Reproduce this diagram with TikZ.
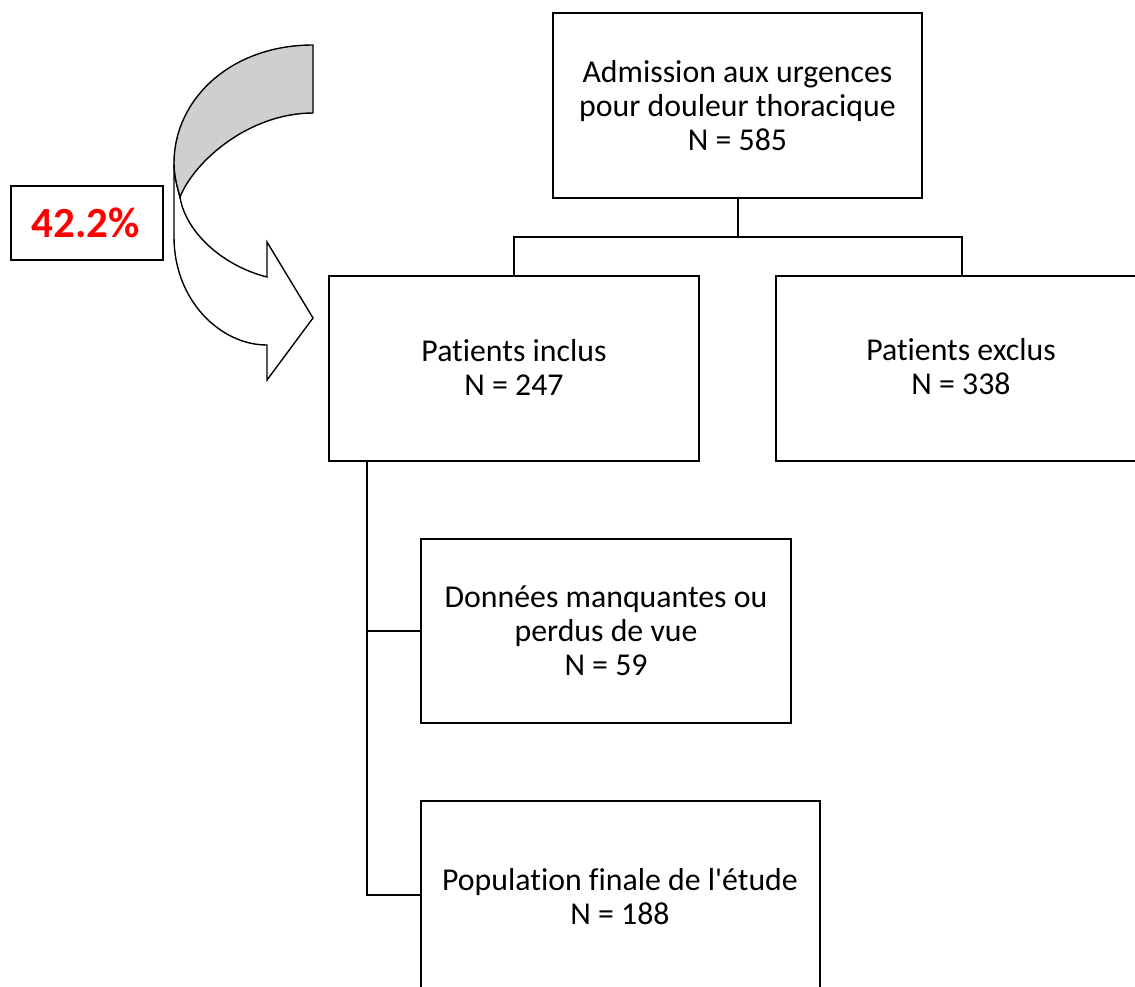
\documentclass[tikz,border=0pt]{standalone}
\usepackage{fontspec}
\newfontfamily\calfont{Carlito}[RawFeature=-liga]
\begin{document}
\begin{tikzpicture}[x=0.5pt,y=-0.5pt,
  box/.style={draw,line width=1.25pt,inner sep=0pt},
  conn/.style={line width=1pt},
  lbl/.style={align=center,font=\calfont\fontsize{15.9}{17}\selectfont},
  arr/.style={draw,line width=0.7pt,line join=miter}]
\useasboundingbox (0,0) rectangle (1135,986);
% boxes
\draw[box] (553,13) rectangle (922,198);
\node[lbl] (admtext) at (737.5,106) {Admission aux urgences\\pour douleur thoracique\\N = 585};
\draw[box] (329,276) rectangle (699,461);
\node[lbl] (incl) at (514,367) {Patients inclus\\N = 247};
\draw[box] (776,276) rectangle (1146,461);
\node[lbl] (excl) at (961,367) {Patients exclus\\N = 338};
\draw[box] (421,539) rectangle (791,723);
\node[lbl] (manq) at (606,631) {Données manquantes ou\\perdus de vue\\N = 59};
\draw[box] (421,801) rectangle (820,993);
\node[lbl] (pop) at (620,897) {Population finale de l'étude\\N = 188};
\draw[line width=1pt] (11,186) rectangle (163,260);
\node[font=\calfont\fontsize{21.5}{24}\selectfont\bfseries,text=red] (pct) at (86,223) {42.2\%};
% connectors
\coordinate (a1) at (738,198);
\coordinate (a2) at (738,237);
\coordinate (l1) at (514,237);
\coordinate (l2) at (514,276);
\coordinate (r1) at (962,237);
\coordinate (r2) at (962,276);
\draw[conn] (a1) -- (a2);
\draw[conn] (l2) -- (l1) -- (r1) -- (r2);
\coordinate (v1) at (367,461);
\coordinate (v2) at (367,895);
\coordinate (h1) at (421,631);
\coordinate (h2) at (421,895);
\draw[conn] (v1) -- (v2) -- (h2);
\draw[conn] (367,631) -- (h1);
% curved arrow
\draw[arr,fill=white] (174,163) -- (174,237) .. controls (174,300) and (220,345) .. (267,345)
  -- (267,380) -- (313,318) -- (267,242) -- (267,277)
  .. controls (220,265) and (185,230) .. (180,197)
  .. controls (177,186) and (174,175) .. (174,163) -- cycle;
\draw[arr,fill=black!19] (313,45) .. controls (230,45) and (174,100) .. (174,163)
  .. controls (174,175) and (177,186) .. (180,197)
  .. controls (195,160) and (250,113) .. (313,113) -- cycle;
\end{tikzpicture}
\end{document}
